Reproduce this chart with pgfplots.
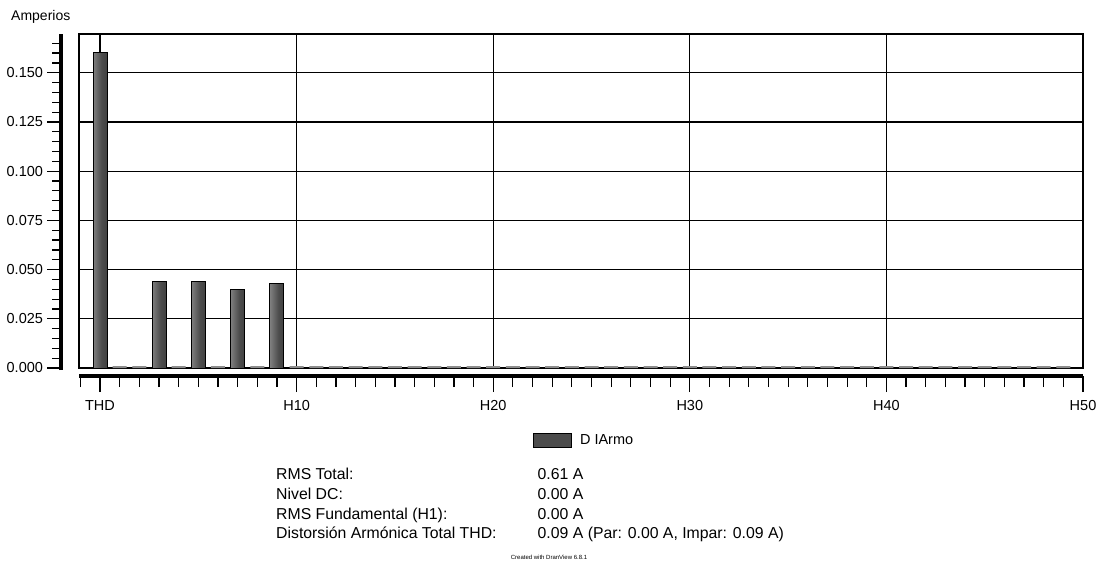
\documentclass[border=0pt]{standalone}
\usepackage{pgfplots}
\pgfplotsset{compat=1.18}
\usepackage{fontspec}
\setmainfont{Liberation Sans}

\pgfdeclarehorizontalshading{barshade}{100bp}{color(0bp)=(black!88); color(25bp)=(black!50); color(55bp)=(black!70); color(100bp)=(black!80)}

\begin{document}
\begin{tikzpicture}[x=1pt,y=1pt]
\useasboundingbox (0,0) rectangle (1107,-567);

% main plot area
\begin{axis}[
  at={(79pt,-368pt)}, anchor=south west,
  scale only axis, width=1004pt, height=334pt,
  xmin=-1.07, xmax=50, ymin=0, ymax=0.1697,
  axis line style={line width=2pt},
  xtick={0,10,20,30,40}, ytick={0.025,0.05,0.075,0.1,0.125,0.15},
  xticklabels={}, yticklabels={},
  major tick length=0pt,
  grid=major, grid style={black, line width=1.2pt},
  ybar, bar width=14pt, bar shift=0pt,
  hbar/.style={draw=black, line width=1pt, shading=barshade, forget plot},
  legend style={at={(0.452,-0.2156)}, anchor=west, draw=none, fill=none, inner sep=0pt,
    column sep=6pt, font=\fontsize{14.5}{17}\selectfont},
]
\addplot[fill=black!45, draw=none, forget plot] coordinates {
(1,0.001) (2,0.001) (4,0.001) (6,0.001) (8,0.001) (10,0.001)
(11,0.001) (12,0.001) (13,0.001) (14,0.001) (15,0.001) (16,0.001) (17,0.001) (18,0.001) (19,0.001) (20,0.001)
(21,0.001) (22,0.001) (23,0.001) (24,0.001) (25,0.001) (26,0.001) (27,0.001) (28,0.001) (29,0.001) (30,0.001)
(31,0.001) (32,0.001) (33,0.001) (34,0.001) (35,0.001) (36,0.001) (37,0.001) (38,0.001) (39,0.001) (40,0.001)
(41,0.001) (42,0.001) (43,0.001) (44,0.001) (45,0.001) (46,0.001) (47,0.001) (48,0.001) (49,0.001)
};
\addplot[hbar] coordinates {(0,0.1602)};
\addplot[hbar] coordinates {(3,0.0439)};
\addplot[hbar] coordinates {(5,0.0439)};
\addplot[hbar] coordinates {(7,0.0401)};
\addplot[hbar] coordinates {(9,0.0430)};
\addlegendimage{legend image code/.code={\draw[fill=black!70, draw=black, line width=1pt] (0pt,-7pt) rectangle (38pt,7pt);}}
\addlegendentry{D IArmo}
\end{axis}

% separate x axis
\begin{axis}[
  at={(79pt,-376pt)}, anchor=south west,
  scale only axis, width=1004pt, height=10pt,
  xmin=-1.07, xmax=50, ymin=0, ymax=1,
  axis x line=bottom, hide y axis,
  x axis line style={-, line width=4pt},
  xtick={0,10,20,30,40,50},
  xticklabels={THD,H10,H20,H30,H40,H50},
  minor xtick={-1,1,2,3,4,5,6,7,8,9,11,12,13,14,15,16,17,18,19,21,22,23,24,25,26,27,28,29,31,32,33,34,35,36,37,38,39,41,42,43,44,45,46,47,48,49},
  tick align=outside,
  major tick length=16pt, minor tick length=11pt,
  tick style={black, line width=1.2pt},
  xticklabel style={font=\fontsize{14.5}{17}\selectfont, yshift=-5pt},
]
\end{axis}

% separate y axis
\begin{axis}[
  at={(70.5pt,-368pt)}, anchor=south east,
  scale only axis, width=10pt, height=334pt,
  xmin=0, xmax=1, ymin=0, ymax=0.1697,
  axis y line=left, hide x axis,
  y axis line style={-, line width=4pt, shorten <=-2pt},
  ytick={0,0.025,0.05,0.075,0.1,0.125,0.15},
  minor ytick={0.005,0.01,0.015,0.02,0.03,0.035,0.04,0.045,0.055,0.06,0.065,0.07,0.08,0.085,0.09,0.095,0.105,0.11,0.115,0.12,0.13,0.135,0.14,0.145,0.155,0.16,0.165},
  tick align=outside,
  major tick length=13pt, minor tick length=8pt,
  tick style={black, line width=1.2pt},
  /pgf/number format/assume math mode=true,
  yticklabel style={font=\fontsize{14.5}{17}\selectfont, xshift=-1pt, /pgf/number format/fixed, /pgf/number format/fixed zerofill, /pgf/number format/precision=3},
]
\end{axis}

\node[anchor=base west, font=\fontsize{14}{16}\selectfont, inner sep=0pt] at (11,-20.5) {Amperios};

\begin{scope}[every node/.style={anchor=base west, inner sep=0pt, font=\fontsize{15.8}{18}\selectfont}]
\node at (276,-479.5) {RMS Total:};
\node at (276,-499.3) {Nivel DC:};
\node at (276,-519.1) {RMS Fundamental (H1):};
\node at (276,-538.9) {Distorsión Armónica Total THD:};
\node at (537.5,-479.5) {0.61 A};
\node at (537.5,-499.3) {0.00 A};
\node at (537.5,-519.1) {0.00 A};
\node at (537.5,-538.9) {0.09 A (Par: 0.00 A, Impar: 0.09 A)};
\end{scope}
\node[font=\fontsize{6}{7}\selectfont, inner sep=0pt] at (549,-557) {Created with DranView 6.8.1};
\end{tikzpicture}
\end{document}
